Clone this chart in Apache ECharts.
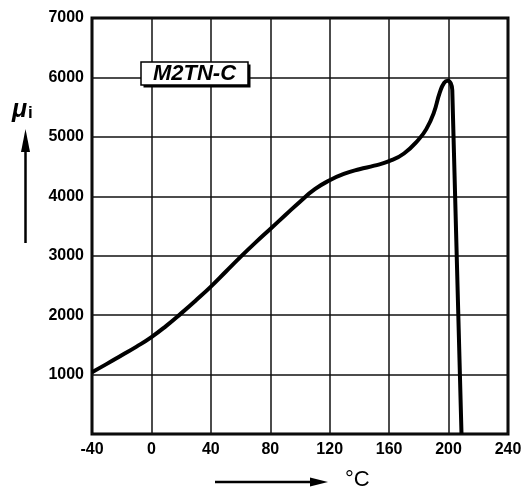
<!DOCTYPE html>
<html>
<head>
<meta charset="utf-8">
<script src="https://cdn.jsdelivr.net/npm/echarts@6/dist/echarts.min.js"></script>
<style>
html,body{margin:0;padding:0;background:#fff;}
#c{width:529px;height:491px;}
</style>
</head>
<body>
<div id="c"></div>
<script>
// Data
var temperature = [-40, -30, -20, -10, 0, 10, 20, 30, 40, 50, 60, 70, 80, 90, 100, 110, 120, 130, 140, 150, 160, 170, 180, 185, 190, 194, 197, 199.5, 201.5, 202.5, 208.7];
var permeability = [1040, 1180, 1325, 1470, 1630, 1820, 2030, 2250, 2480, 2730, 2980, 3220, 3450, 3680, 3910, 4120, 4270, 4380, 4455, 4515, 4590, 4720, 4960, 5130, 5400, 5740, 5910, 5945, 5900, 5780, 0];
var xTicks = [-40, 0, 40, 80, 120, 160, 200, 240];
var yTicks = [1000, 2000, 3000, 4000, 5000, 6000, 7000];
var materialName = 'M2TN-C';
var yName = 'μ';
var ySub = 'i';
var xUnit = '°C';

var FONT = 'Liberation Sans, Arial, sans-serif';
var chart = echarts.init(document.getElementById('c'), null, {renderer: 'canvas'});
var pts = temperature.map(function (t, i) { return [t, permeability[i]]; });

chart.setOption({
  animation: false,
  backgroundColor: '#fff',
  grid: {left: 92, right: 21, top: 18, bottom: 57, show: true, borderColor: '#000', borderWidth: 3, backgroundColor: 'transparent'},
  xAxis: {
    type: 'value', min: xTicks[0], max: xTicks[xTicks.length - 1], interval: 40,
    axisLine: {show: false}, axisTick: {show: false},
    splitLine: {show: true, lineStyle: {color: '#111', width: 1.5}},
    axisLabel: {fontFamily: FONT, fontSize: 16, fontWeight: 'bold', color: '#000', margin: 8,
      formatter: function (v) { return xTicks.indexOf(v) >= 0 ? String(v) : ''; }}
  },
  yAxis: {
    type: 'value', min: 0, max: yTicks[yTicks.length - 1], interval: 1000,
    axisLine: {show: false}, axisTick: {show: false},
    splitLine: {show: true, lineStyle: {color: '#111', width: 1.5}},
    axisLabel: {fontFamily: FONT, fontSize: 16, fontWeight: 'bold', color: '#000', margin: 8,
      formatter: function (v) { return yTicks.indexOf(v) >= 0 ? String(v) : ''; }}
  },
  series: [{
    type: 'line', data: pts, smooth: 0.5, showSymbol: false,
    lineStyle: {color: '#000', width: 4}, clip: true
  }],
  graphic: [
    {type: 'rect', shape: {x: 143.5, y: 64.5, width: 107, height: 23}, style: {fill: '#000'}, z: 100},
    {type: 'rect', shape: {x: 141, y: 62, width: 107, height: 23}, style: {fill: '#fff', stroke: '#000', lineWidth: 1.5}, z: 101},
    {type: 'text', x: 194.5, y: 74, z: 102, style: {text: materialName, fontFamily: FONT, fontSize: 22, fontWeight: 'bold', fontStyle: 'italic', fill: '#000', align: 'center', verticalAlign: 'middle'}},
    {type: 'text', left: 12, top: 98, style: {
      text: '{a|' + yName + '}{b|' + ySub + '}',
      rich: {
        a: {fontFamily: FONT, fontSize: 25, fontWeight: 'bold', fontStyle: 'italic', fill: '#000'},
        b: {fontFamily: FONT, fontSize: 17, fontWeight: 'bold', fill: '#000', padding: [6, 0, 0, 1]}
      }}},
    {type: 'line', shape: {x1: 25.5, y1: 243, x2: 25.5, y2: 148}, style: {stroke: '#000', lineWidth: 2.5}},
    {type: 'polygon', shape: {points: [[25.5, 129], [21, 152], [30, 152]]}, style: {fill: '#000'}},
    {type: 'line', shape: {x1: 215, y1: 482, x2: 312, y2: 482}, style: {stroke: '#000', lineWidth: 2.5}},
    {type: 'polygon', shape: {points: [[328, 482], [310, 477.5], [310, 486.5]]}, style: {fill: '#000'}},
    {type: 'text', left: 345, top: 469, style: {text: xUnit, fontFamily: FONT, fontSize: 22, fill: '#000'}}
  ]
});
</script>
</body>
</html>
